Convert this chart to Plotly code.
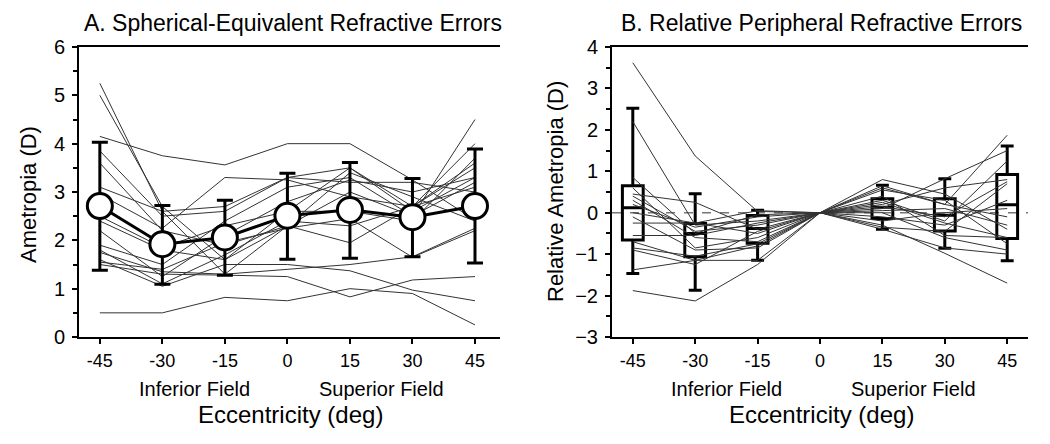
import plotly.graph_objects as go

ecc = [-45, -30, -15, 0, 15, 30, 45]
ecc_labels = ["-45", "-30", "-15", "0", "15", "30", "45"]

# Panel A: individual spherical-equivalent refractions (D)
subj_A = [
    [0.50, 0.50, 0.82, 0.75, 1.00, 0.90, 0.25],
    [1.50, 1.30, 1.28, 1.25, 0.83, 1.18, 1.25],
    [1.60, 1.05, 1.50, 1.50, 1.37, 0.97, 0.75],
    [1.75, 1.35, 1.30, 1.40, 1.50, 1.66, 2.25],
    [5.25, 2.60, 1.30, 2.30, 3.40, 2.90, 2.40],
    [5.00, 2.70, 1.60, 2.60, 3.50, 2.70, 3.50],
    [4.15, 3.75, 3.56, 4.00, 4.00, 3.25, 2.42],
    [3.85, 2.50, 2.60, 3.30, 3.50, 2.60, 3.30],
    [3.60, 2.20, 1.90, 2.30, 3.00, 2.50, 4.50],
    [3.10, 2.60, 2.70, 3.30, 3.20, 3.20, 3.00],
    [2.95, 2.25, 3.30, 3.25, 2.90, 2.70, 4.00],
    [2.50, 1.85, 2.30, 2.60, 2.60, 2.40, 3.70],
    [2.40, 1.80, 1.60, 2.30, 1.95, 2.70, 3.60],
    [1.90, 1.50, 2.40, 3.10, 3.30, 2.50, 3.20],
    [1.80, 1.10, 1.70, 2.40, 2.30, 2.70, 3.10],
    [1.55, 1.40, 1.95, 2.25, 2.45, 1.65, 2.20],
    [2.20, 1.25, 2.10, 2.80, 3.25, 3.00, 3.30],
]
mean_A = [2.71, 1.92, 2.06, 2.51, 2.63, 2.48, 2.71]
upper_A = [4.03, 2.72, 2.83, 3.39, 3.61, 3.28, 3.89]
lower_A = [1.38, 1.09, 1.28, 1.61, 1.63, 1.66, 1.53]

# Panel B: relative peripheral refraction (D)
subj_B = [
    [3.62, 1.37, 0.03, 0, -0.30, -0.98, -1.70],
    [2.20, -0.30, -0.20, 0, 0.55, 0.30, -0.75],
    [0.85, -0.50, -0.05, 0, 0.65, 0.20, 1.87],
    [0.60, -0.85, -0.60, 0, 0.10, 0.82, 1.50],
    [0.45, 0.25, -0.40, 0, 0.80, 0.45, -0.40],
    [0.40, -0.45, -0.30, 0, 0.30, -0.20, 1.25],
    [0.30, -0.60, -0.70, 0, 0.15, -0.10, 0.75],
    [0.20, -0.35, -0.10, 0, 0.20, 0.60, 0.80],
    [0.00, -0.25, 0.05, 0, -0.35, -0.45, 0.70],
    [-0.10, -0.90, -0.85, 0, 0.05, 0.10, -0.30],
    [-0.25, -0.25, -0.50, 0, 0.40, -0.55, -0.60],
    [-0.55, -0.55, -0.25, 0, -0.10, -0.30, 0.30],
    [-0.70, -1.15, -1.15, 0, -0.20, 0.00, 0.10],
    [-0.85, -1.05, -0.75, 0, 0.00, -0.60, -0.90],
    [-0.90, -1.25, -0.45, 0, -0.40, -0.85, -1.00],
    [-1.38, -1.15, -0.80, 0, 0.60, 0.20, -0.10],
    [-1.88, -2.13, -1.25, 0, 0.25, -0.25, -0.60],
]
box_x = [-45, -30, -15, 15, 30, 45]
box_upper = [2.52, 0.46, 0.06, 0.66, 0.82, 1.61]
box_q3 = [0.65, -0.26, -0.07, 0.34, 0.34, 0.92]
box_median = [0.12, -0.50, -0.38, 0.13, -0.06, 0.19]
box_q1 = [-0.66, -1.06, -0.74, -0.14, -0.44, -0.62]
box_lower = [-1.47, -1.87, -1.15, -0.40, -0.86, -1.16]

FONT = "Liberation Sans, Arial, sans-serif"
THIN = "#333333"
W, H = 1050, 444
OFF = 8  # page body margin offset

fig = go.Figure()

for s in subj_A:
    fig.add_trace(go.Scatter(x=ecc, y=s, mode="lines", line=dict(color=THIN, width=1),
                             xaxis="x", yaxis="y", showlegend=False, hoverinfo="skip"))

fig.add_trace(go.Scatter(
    x=ecc, y=mean_A, mode="lines+markers",
    line=dict(color="black", width=3),
    marker=dict(size=25, color="white", line=dict(color="black", width=3)),
    error_y=dict(type="data", symmetric=False,
                 array=[u - m for u, m in zip(upper_A, mean_A)],
                 arrayminus=[m - l for m, l in zip(mean_A, lower_A)],
                 thickness=3, width=8, color="black"),
    xaxis="x", yaxis="y", showlegend=False))

for s in subj_B:
    fig.add_trace(go.Scatter(x=ecc, y=s, mode="lines", line=dict(color=THIN, width=1),
                             xaxis="x2", yaxis="y2", showlegend=False, hoverinfo="skip"))

fig.add_trace(go.Box(
    x=box_x, q1=box_q1, median=box_median, q3=box_q3,
    lowerfence=box_lower, upperfence=box_upper,
    width=5, whiskerwidth=0.62,
    line=dict(color="black", width=3), fillcolor="rgba(0,0,0,0)",
    xaxis="x2", yaxis="y2", showlegend=False, boxpoints=False))

def px_x(x):
    return (x - OFF) / W

def px_y(y):
    return 1 - (y - OFF) / H

xd_A = [px_x(79), px_x(500)]
xd_B = [px_x(612), px_x(1028)]
yd = [px_y(337), px_y(47)]

common_x = dict(tickvals=ecc, ticktext=ecc_labels, ticks="outside", ticklen=5, tickwidth=2,
                tickcolor="black", showline=True, linewidth=2, linecolor="black", mirror=True,
                showgrid=False, zeroline=False, automargin=False,
                tickfont=dict(family=FONT, size=18, color="black"),
                ticklabelstandoff=1)
minor = dict(ticks="outside", dtick=0.5, ticklen=4, tickwidth=1.5, tickcolor="black", showgrid=False)
common_y = dict(ticks="outside", ticklen=5, tickwidth=2, tickcolor="black", dtick=1,
                showline=True, linewidth=2, linecolor="black", showgrid=False, zeroline=False,
                automargin=False,
                tickfont=dict(family=FONT, size=20, color="black"), minor=minor,
                ticklabelstandoff=3)
right_common = dict(dtick=1, ticklen=5, tickwidth=2, tickcolor="black",
                    showticklabels=False, showline=True, linewidth=2, linecolor="black",
                    showgrid=False, zeroline=False, automargin=False)

fig.update_layout(
    width=W, height=H, margin=dict(l=0, r=0, t=0, b=0, autoexpand=False),
    paper_bgcolor="white", plot_bgcolor="white",
    xaxis=dict(domain=xd_A, range=[-50, 51], anchor="y", **common_x),
    yaxis=dict(domain=yd, range=[0, 6], anchor="x", **common_y),
    yaxis3=dict(overlaying="y", side="right", anchor="x", range=[0, 6], ticks="inside",
                minor=dict(ticks="inside", dtick=0.5, ticklen=4, tickwidth=1.5, tickcolor="black"),
                **right_common),
    xaxis2=dict(domain=xd_B, range=[-50, 50], anchor="y2", **common_x),
    yaxis2=dict(domain=yd, range=[-3, 4], anchor="x2", **common_y),
    yaxis4=dict(overlaying="y2", side="right", anchor="x2", range=[-3, 4], ticks="outside",
                minor=dict(ticks="outside", dtick=0.5, ticklen=4, tickwidth=1.5, tickcolor="black"),
                **right_common),
    shapes=[dict(type="line", xref="x2 domain", yref="y2", x0=0, x1=1, y0=0, y1=0,
                 line=dict(color="#777777", width=1.5, dash="dash"), layer="below")],
    showlegend=False,
)

def ann(text, x, y, size, angle=0, yanchor="middle"):
    fig.add_annotation(text=text, x=px_x(x), y=px_y(y), xref="paper", yref="paper",
                       showarrow=False, font=dict(family=FONT, size=size, color="black"),
                       textangle=angle, xanchor="center", yanchor=yanchor)

ann("A. Spherical-Equivalent Refractive Errors", 293, OFF, 23, yanchor="top")
ann("B. Relative Peripheral Refractive Errors", 821, OFF, 23, yanchor="top")
ann("Ametropia (D)", 28, 195, 22, angle=-90)
ann("Relative Ametropia (D)", 555, 192, 22, angle=-90)
ann("Inferior Field", 194, 389, 20)
ann("Superior Field", 381, 389, 20)
ann("Inferior Field", 726, 389, 20)
ann("Superior Field", 913, 389, 20)
ann("Eccentricity (deg)", 290, 414, 24)
ann("Eccentricity (deg)", 821, 414, 24)

fig.write_html("out.html")
